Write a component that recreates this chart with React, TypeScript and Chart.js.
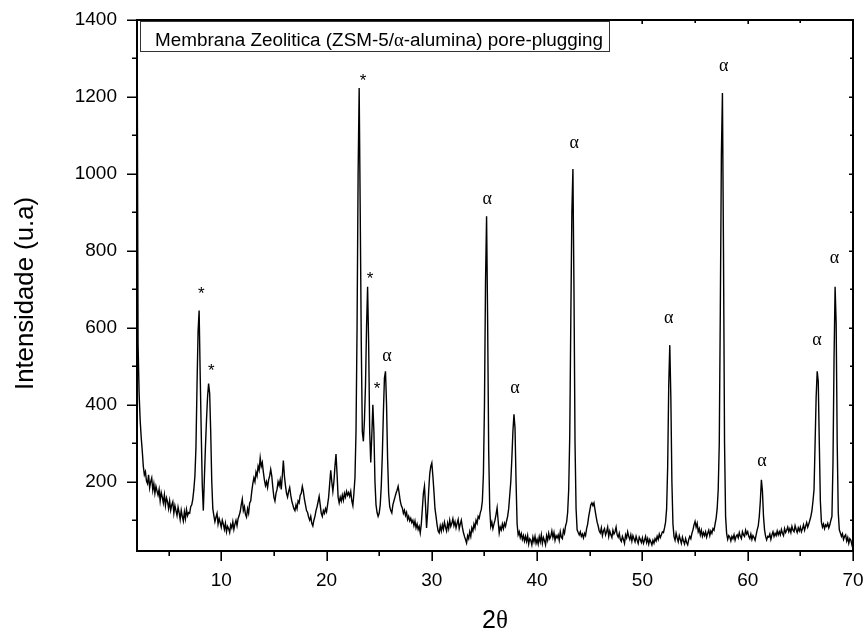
import React, { useEffect, useRef } from 'react';
import { Chart, registerables } from 'chart.js';

Chart.register(...registerables);

// XRD scan: 2θ from 2.0° to 70.0° in 0.1° steps
const scanStart = 2.0;
const scanStep = 0.1;

const intensity: number[] = [
  1500, 560, 430, 360, 315, 280, 240, 218, 226, 202,
  195, 218, 184, 200, 210, 178, 195, 170, 188, 176,
  165, 180, 150, 172, 160, 145, 166, 138, 158, 148,
  130, 150, 126, 140, 148, 118, 138, 125, 112, 134,
  120, 102, 126, 110, 98, 122, 104, 128, 112, 120,
  118, 135, 140, 155, 180, 215, 290, 450, 590, 645,
  480, 330, 190, 125, 210, 290, 360, 420, 455, 430,
  330, 200, 130, 112, 96, 108, 118, 90, 104, 94,
  82, 100, 90, 76, 92, 70, 84, 78, 68, 88,
  80, 96, 76, 90, 100, 86, 104, 112, 122, 140,
  155, 125, 135, 115, 108, 130, 118, 145, 150, 175,
  195, 210, 200, 225, 215, 240, 230, 262, 240, 250,
  225, 205, 190, 200, 185, 205, 215, 232, 215, 185,
  160, 150, 170, 180, 200, 190, 205, 180, 215, 255,
  215, 190, 170, 160, 175, 185, 165, 150, 140, 130,
  125, 140, 130, 150, 145, 165, 170, 188, 175, 155,
  140, 125, 120, 108, 100, 110, 92, 85, 100, 110,
  125, 135, 148, 162, 140, 118, 110, 125, 118, 130,
  122, 140, 160, 195, 230, 200, 175, 200, 240, 272,
  220, 160, 145, 160, 150, 165, 152, 170, 160, 175,
  165, 172, 162, 175, 150, 138, 170, 210, 330, 600,
  1000, 1223, 900, 560, 330, 305, 360, 450, 600, 707,
  560, 330, 250, 320, 400, 330, 200, 140, 120, 110,
  118, 140, 190, 270, 380, 470, 487, 400, 260, 170,
  135, 125, 119, 140, 150, 160, 170, 178, 188, 170,
  150, 138, 132, 118, 126, 112, 120, 102, 110, 98,
  105, 94, 100, 86, 98, 80, 90, 76, 84, 67,
  90, 130, 170, 188, 140, 80, 120, 175, 220, 240,
  249, 215, 175, 130, 110, 88, 72, 67, 85, 72,
  88, 76, 95, 82, 72, 92, 78, 100, 84, 92,
  104, 86, 96, 80, 92, 102, 78, 90, 100, 82,
  68, 58, 50, 41, 60, 52, 70, 58, 80, 72,
  90, 80, 100, 92, 110, 105, 119, 128, 150, 220,
  400, 720, 890, 620, 280, 130, 84, 95, 78, 90,
  100, 115, 132, 98, 67, 82, 75, 90, 78, 92,
  84, 98, 110, 130, 165, 200, 260, 330, 375, 340,
  200, 90, 62, 70, 55, 65, 50, 60, 46, 58,
  45, 60, 38, 52, 48, 36, 56, 44, 58, 40,
  50, 38, 57, 44, 62, 40, 55, 47, 36, 60,
  48, 66, 52, 58, 72, 55, 68, 48, 60, 54,
  62, 48, 70, 56, 52, 74, 66, 85, 95, 120,
  180, 320, 620, 900, 1013, 700, 300, 130, 75, 68,
  62, 70, 58, 64, 54, 66, 60, 78, 90, 110,
  125, 140, 145, 138, 145, 127, 110, 95, 85, 72,
  67, 80, 60, 72, 78, 62, 70, 82, 58, 72,
  62, 55, 74, 64, 70, 82, 62, 56, 66, 50,
  45, 58, 50, 40, 62, 54, 70, 58, 50, 62,
  46, 60, 52, 44, 58, 48, 40, 56, 50, 42,
  54, 40, 48, 58, 42, 52, 38, 50, 44, 36,
  48, 40, 52, 46, 58, 50, 64, 55, 62, 70,
  68, 80, 95, 130, 240, 450, 555, 420, 200, 90,
  58, 48, 66, 54, 44, 60, 50, 40, 56, 46,
  38, 52, 42, 36, 50, 58, 52, 66, 75, 88,
  97, 82, 92, 70, 78, 62, 74, 58, 68, 60,
  70, 56, 66, 74, 60, 72, 66, 78, 74, 90,
  105, 130, 180, 300, 650, 1050, 1210, 800, 300, 110,
  65, 50, 60, 56, 46, 58, 52, 62, 48, 58,
  62, 54, 68, 58, 52, 70, 62, 58, 74, 64,
  70, 58, 52, 64, 50, 60, 55, 48, 62, 75,
  85, 110, 150, 205, 175, 110, 75, 58, 49, 58,
  56, 64, 50, 62, 70, 58, 66, 60, 72, 62,
  70, 62, 76, 66, 60, 78, 68, 74, 82, 70,
  78, 68, 84, 74, 70, 86, 76, 68, 80, 72,
  82, 70, 78, 88, 74, 84, 94, 82, 90, 100,
  110, 125, 150, 180, 300, 420, 487, 461, 300, 150,
  95, 82, 90, 78, 88, 84, 92, 80, 88, 100,
  110, 250, 520, 707, 612, 300, 120, 75, 67, 58,
  65, 50, 58, 62, 46, 55, 40, 52, 48, 36,
  44,
];

const xTickValues = [10, 20, 30, 40, 50, 60, 70];
const xMinorValues = [5, 15, 25, 35, 45, 55, 65];
const yTickValues = [200, 400, 600, 800, 1000, 1200, 1400];
const yMinorValues = [100, 300, 500, 700, 900, 1100, 1300];

// Peak markers (* = ZSM-5, α = alumina), positioned in data units
const peakLabelText = ['*', '*', '*', '*', '*', 'α', 'α', 'α', 'α', 'α', 'α', 'α', 'α', 'α'];
const peakLabelX = [8.11, 9.06, 23.46, 24.13, 24.79, 25.74, 35.27, 37.9, 43.52, 52.49, 57.71, 61.35, 66.58, 68.25];
const peakLabelY = [700, 500, 1253, 739, 453, 525, 932, 440, 1078, 622, 1279, 252, 567, 780];

const legendParts = ['Membrana Zeolitica (ZSM-5/', 'α', '-alumina) pore-plugging'];
const xTitleParts = ['2', 'θ'];
const yTitle = 'Intensidade (u.a)';

const SANS = 'Arial, "Liberation Sans", Helvetica, sans-serif';
const SERIF = '"Liberation Serif", "Times New Roman", serif';

const decorPlugin = {
  id: 'decor',
  afterDraw(chart: any) {
    const { ctx, chartArea: a, scales } = chart;
    const xs = scales.x;
    const ys = scales.y;
    ctx.save();

    // frame
    ctx.strokeStyle = '#000';
    ctx.lineWidth = 2;
    ctx.strokeRect(a.left, a.top, a.right - a.left, a.bottom - a.top);

    // ticks
    ctx.lineWidth = 1.6;
    ctx.beginPath();
    xTickValues.forEach((v) => {
      const p = Math.round(xs.getPixelForValue(v)) + 0.2;
      ctx.moveTo(p, a.bottom); ctx.lineTo(p, a.bottom + 10);
      ctx.moveTo(p, a.top); ctx.lineTo(p, a.top + 4);
    });
    xMinorValues.forEach((v) => {
      const p = Math.round(xs.getPixelForValue(v)) + 0.2;
      ctx.moveTo(p, a.bottom); ctx.lineTo(p, a.bottom + 5);
      ctx.moveTo(p, a.top); ctx.lineTo(p, a.top + 3);
    });
    yTickValues.forEach((v) => {
      const p = Math.round(ys.getPixelForValue(v)) + 0.2;
      ctx.moveTo(a.left, p); ctx.lineTo(a.left - 10, p);
      ctx.moveTo(a.right, p); ctx.lineTo(a.right - 4, p);
    });
    yMinorValues.forEach((v) => {
      const p = Math.round(ys.getPixelForValue(v)) + 0.2;
      ctx.moveTo(a.left, p); ctx.lineTo(a.left - 5, p);
      ctx.moveTo(a.right, p); ctx.lineTo(a.right - 3, p);
    });
    ctx.stroke();

    // legend / title box
    ctx.fillStyle = '#fff';
    ctx.fillRect(140.5, 21.5, 469, 30);
    ctx.strokeStyle = '#333';
    ctx.lineWidth = 1;
    ctx.strokeRect(140.5, 21.5, 469, 30);
    ctx.fillStyle = '#000';
    ctx.textBaseline = 'alphabetic';
    ctx.textAlign = 'left';
    const fonts = [`18px ${SANS}`, `18px ${SERIF}`, `18px ${SANS}`];
    let total = 0;
    const widths = legendParts.map((t, i) => {
      ctx.font = fonts[i];
      const w = ctx.measureText(t).width;
      total += w;
      return w;
    });
    const s = 448 / total;
    ctx.save();
    ctx.translate(155, 46);
    ctx.scale(s, 1);
    let cx = 0;
    legendParts.forEach((t, i) => {
      ctx.font = fonts[i];
      ctx.fillText(t, cx, 0);
      cx += widths[i];
    });
    ctx.restore();

    // peak labels
    ctx.textAlign = 'center';
    peakLabelText.forEach((t, i) => {
      const px = xs.getPixelForValue(peakLabelX[i]);
      const py = ys.getPixelForValue(peakLabelY[i]);
      if (t === '*') {
        ctx.font = `17px ${SANS}`;
        ctx.fillText(t, px, py + 9.5);
      } else {
        ctx.font = `18px ${SERIF}`;
        ctx.fillText(t, px, py + 4);
      }
    });

    // x title
    ctx.font = `25px ${SANS}`;
    const w2 = ctx.measureText(xTitleParts[0]).width;
    ctx.font = `25px ${SERIF}`;
    const wt = ctx.measureText(xTitleParts[1]).width;
    const xStart = (a.left + a.right) / 2 - (w2 + wt) / 2;
    ctx.textAlign = 'left';
    ctx.font = `25px ${SANS}`;
    ctx.fillText(xTitleParts[0], xStart, 628);
    ctx.font = `25px ${SERIF}`;
    ctx.fillText(xTitleParts[1], xStart + w2, 628);

    // y title
    ctx.save();
    ctx.translate(33, 293.5);
    ctx.rotate(-Math.PI / 2);
    ctx.font = `25px ${SANS}`;
    const wy = ctx.measureText(yTitle).width;
    ctx.scale(193 / wy, 1);
    ctx.textAlign = 'center';
    ctx.fillText(yTitle, 0, 0);
    ctx.restore();

    ctx.restore();
  },
};

export default function App() {
  const canvasRef = useRef<HTMLCanvasElement | null>(null);

  useEffect(() => {
    const canvas = canvasRef.current;
    if (!canvas) return;
    const points = intensity.map((v, i) => ({ x: scanStart + i * scanStep, y: v }));
    const chart = new Chart(canvas, {
      type: 'line',
      data: {
        datasets: [
          {
            data: points,
            borderColor: '#000',
            borderWidth: 1.4,
            pointRadius: 0,
            fill: false,
            tension: 0,
          },
        ],
      },
      options: {
        animation: false,
        responsive: false,
        devicePixelRatio: 1,
        layout: { padding: { top: 20, right: 12, left: 0, bottom: 0 } },
        plugins: {
          legend: { display: false },
          tooltip: { enabled: false },
        },
        scales: {
          x: {
            type: 'linear',
            min: 2,
            max: 70,
            afterBuildTicks: (s: any) => {
              s.ticks = xTickValues.map((v) => ({ value: v }));
            },
            afterFit: (s: any) => {
              s.height = 80;
              s.paddingLeft = 0;
              s.paddingRight = 0;
            },
            grid: { display: false, drawTicks: false },
            border: { display: false },
            ticks: {
              color: '#000',
              font: { family: SANS, size: 19 },
              padding: 18,
              maxRotation: 0,
              autoSkip: false,
              callback: (v: any) => String(v),
            },
          },
          y: {
            type: 'linear',
            min: 20,
            max: 1400,
            afterBuildTicks: (s: any) => {
              s.ticks = yTickValues.map((v) => ({ value: v }));
            },
            afterFit: (s: any) => {
              s.width = 137;
              s.paddingTop = 0;
              s.paddingBottom = 0;
            },
            grid: { display: false, drawTicks: false },
            border: { display: false },
            ticks: {
              color: '#000',
              font: { family: SANS, size: 19 },
              padding: 20,
              autoSkip: false,
              callback: (v: any) => String(v),
            },
          },
        },
      },
      plugins: [decorPlugin],
    });
    return () => chart.destroy();
  }, []);

  return (
    <div style={{ position: 'absolute', left: 0, top: 0, width: 865, height: 631, background: '#fff' }}>
      <canvas ref={canvasRef} width={865} height={631} style={{ width: 865, height: 631, display: 'block' }} />
    </div>
  );
}
